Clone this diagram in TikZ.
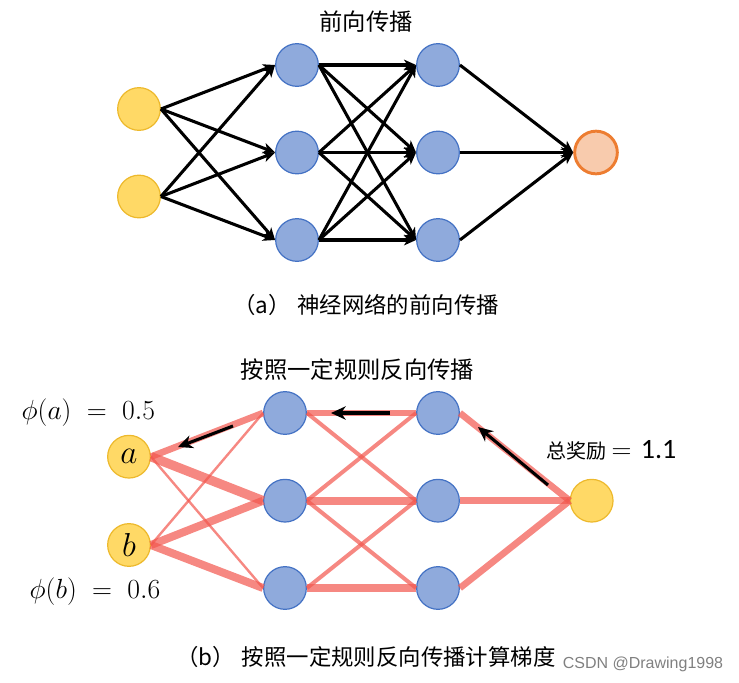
\documentclass[tikz,border=0pt]{standalone}
\usepackage{fontspec}
\usepackage{amsmath}
\usetikzlibrary{arrows.meta}
\newfontfamily\cjk{Noto Sans CJK SC}
\newfontfamily\calib{Carlito}
\newfontfamily\wmark{Liberation Sans}
\definecolor{nnBlue}{HTML}{8FAADC}
\definecolor{nnBlueLine}{HTML}{4472C4}
\definecolor{nnYellow}{HTML}{FFD966}
\definecolor{nnGold}{HTML}{EDB92C}
\definecolor{nnPeach}{HTML}{F8CBAD}
\definecolor{nnOrange}{HTML}{ED7D31}
\definecolor{nnRed}{HTML}{F2564D}

\begin{document}
\begin{tikzpicture}[x=0.75pt,y=-0.75pt,
  neuron/.style={circle,minimum size=32pt,inner sep=0pt,line width=0.9pt},
  hid/.style={neuron,draw=nnBlueLine,fill=nnBlue},
  inp/.style={neuron,draw=nnGold,fill=nnYellow,font=\fontsize{23}{25}\selectfont},
  outp/.style={neuron,draw=nnOrange,fill=nnPeach,line width=2.2pt},
  fwd/.style={-{Stealth[length=9pt,width=8pt,inset=2.5pt]},line width=2.3pt},
  bwd/.style={draw=nnRed,opacity=0.7},
  grad/.style={-{Stealth[length=11pt,width=10pt,inset=3.5pt]},line width=2.3pt},
  ttl/.style={font=\cjk\fontsize{17.5}{20}\selectfont},
  captxt/.style={font=\cjk\fontsize{16.8}{20}\selectfont}
]
\useasboundingbox (0,0) rectangle (739,682);

\node[ttl] (t1) at (366,22) {前向传播};
\node[inp] (x1) at (139,109) {};
\node[inp] (x2) at (139,196.5) {};
\node[hid] (h1a) at (297,65) {};
\node[hid] (h1b) at (297,152.5) {};
\node[hid] (h1c) at (297,240) {};
\node[hid] (h2a) at (438,65) {};
\node[hid] (h2b) at (438,152.5) {};
\node[hid] (h2c) at (438,240) {};
\node[outp] (y) at (596,152.5) {};
\foreach \s in {x1,x2}
  \foreach \t in {h1a,h1b,h1c}
    \draw[fwd] (\s.east) -- (\t.west);
\foreach \s in {h1a,h1b,h1c}
  \foreach \t in {h2a,h2b,h2c}
    \draw[fwd] (\s.east) -- (\t.west);
\foreach \s in {h2a,h2b,h2c}
  \draw[fwd] (\s.east) -- (y.west);
\node[captxt] (ca) at (366,305) {（a）\hspace{0.3em}神经网络的前向传播};

\node[ttl] (t2) at (357.5,370) {按照一定规则反向传播};
\node[inp] (na) at (129,456.7) {$a$};
\node[inp] (nb) at (129,545) {$b$};
\node[hid] (g1a) at (285,413) {};
\node[hid] (g1b) at (285,500.7) {};
\node[hid] (g1c) at (285,588) {};
\node[hid] (g2a) at (438,413) {};
\node[hid] (g2b) at (438,500.7) {};
\node[hid] (g2c) at (438,588) {};
\node[inp] (r) at (591.7,500.7) {};
\foreach \s/\t/\w in {na/g1a/5,na/g1b/7,na/g1c/1.8,nb/g1a/1.8,nb/g1b/6,nb/g1c/6,
    g1a/g2a/4.5,g1a/g2b/3,g1b/g2a/3,g1b/g2b/6,g1b/g2c/3,g1c/g2b/3,g1c/g2c/6,
    g2a/r/5,g2b/r/5,g2c/r/5}
  \draw[bwd,line width=\w pt] (\s.east) -- (\t.west);

\coordinate (ga0) at (233,426);
\coordinate (ga1) at (178,447);
\coordinate (gb0) at (390,413);
\coordinate (gb1) at (331,413);
\coordinate (gc0) at (548,485);
\coordinate (gc1) at (478,427);
\draw[grad] (ga0) -- (ga1);
\draw[grad] (gb0) -- (gb1);
\draw[grad] (gc0) -- (gc1);

\node[anchor=west,font=\fontsize{21}{23}\selectfont] (pa) at (17,413) {$\phi(a)\;=\;0.5$};
\node[anchor=west,font=\fontsize{21}{23}\selectfont] (pb) at (25,592) {$\phi(b)\;=\;0.6$};
\node[anchor=west,inner sep=0pt] (tot) at (546,450)
  {{\cjk\fontsize{15}{17}\selectfont 总奖励}\hspace{4pt}{\fontsize{20}{22}\selectfont$=$}\hspace{7pt}{\calib\fontsize{21}{23}\selectfont 1.1}};
\node[captxt] (cb) at (366,657) {（b）\hspace{0.3em}按照一定规则反向传播计算梯度};
\node[font=\wmark\fontsize{12}{14}\selectfont,text=black!50] (wm) at (643,664) {CSDN @Drawing1998};
\end{tikzpicture}
\end{document}
